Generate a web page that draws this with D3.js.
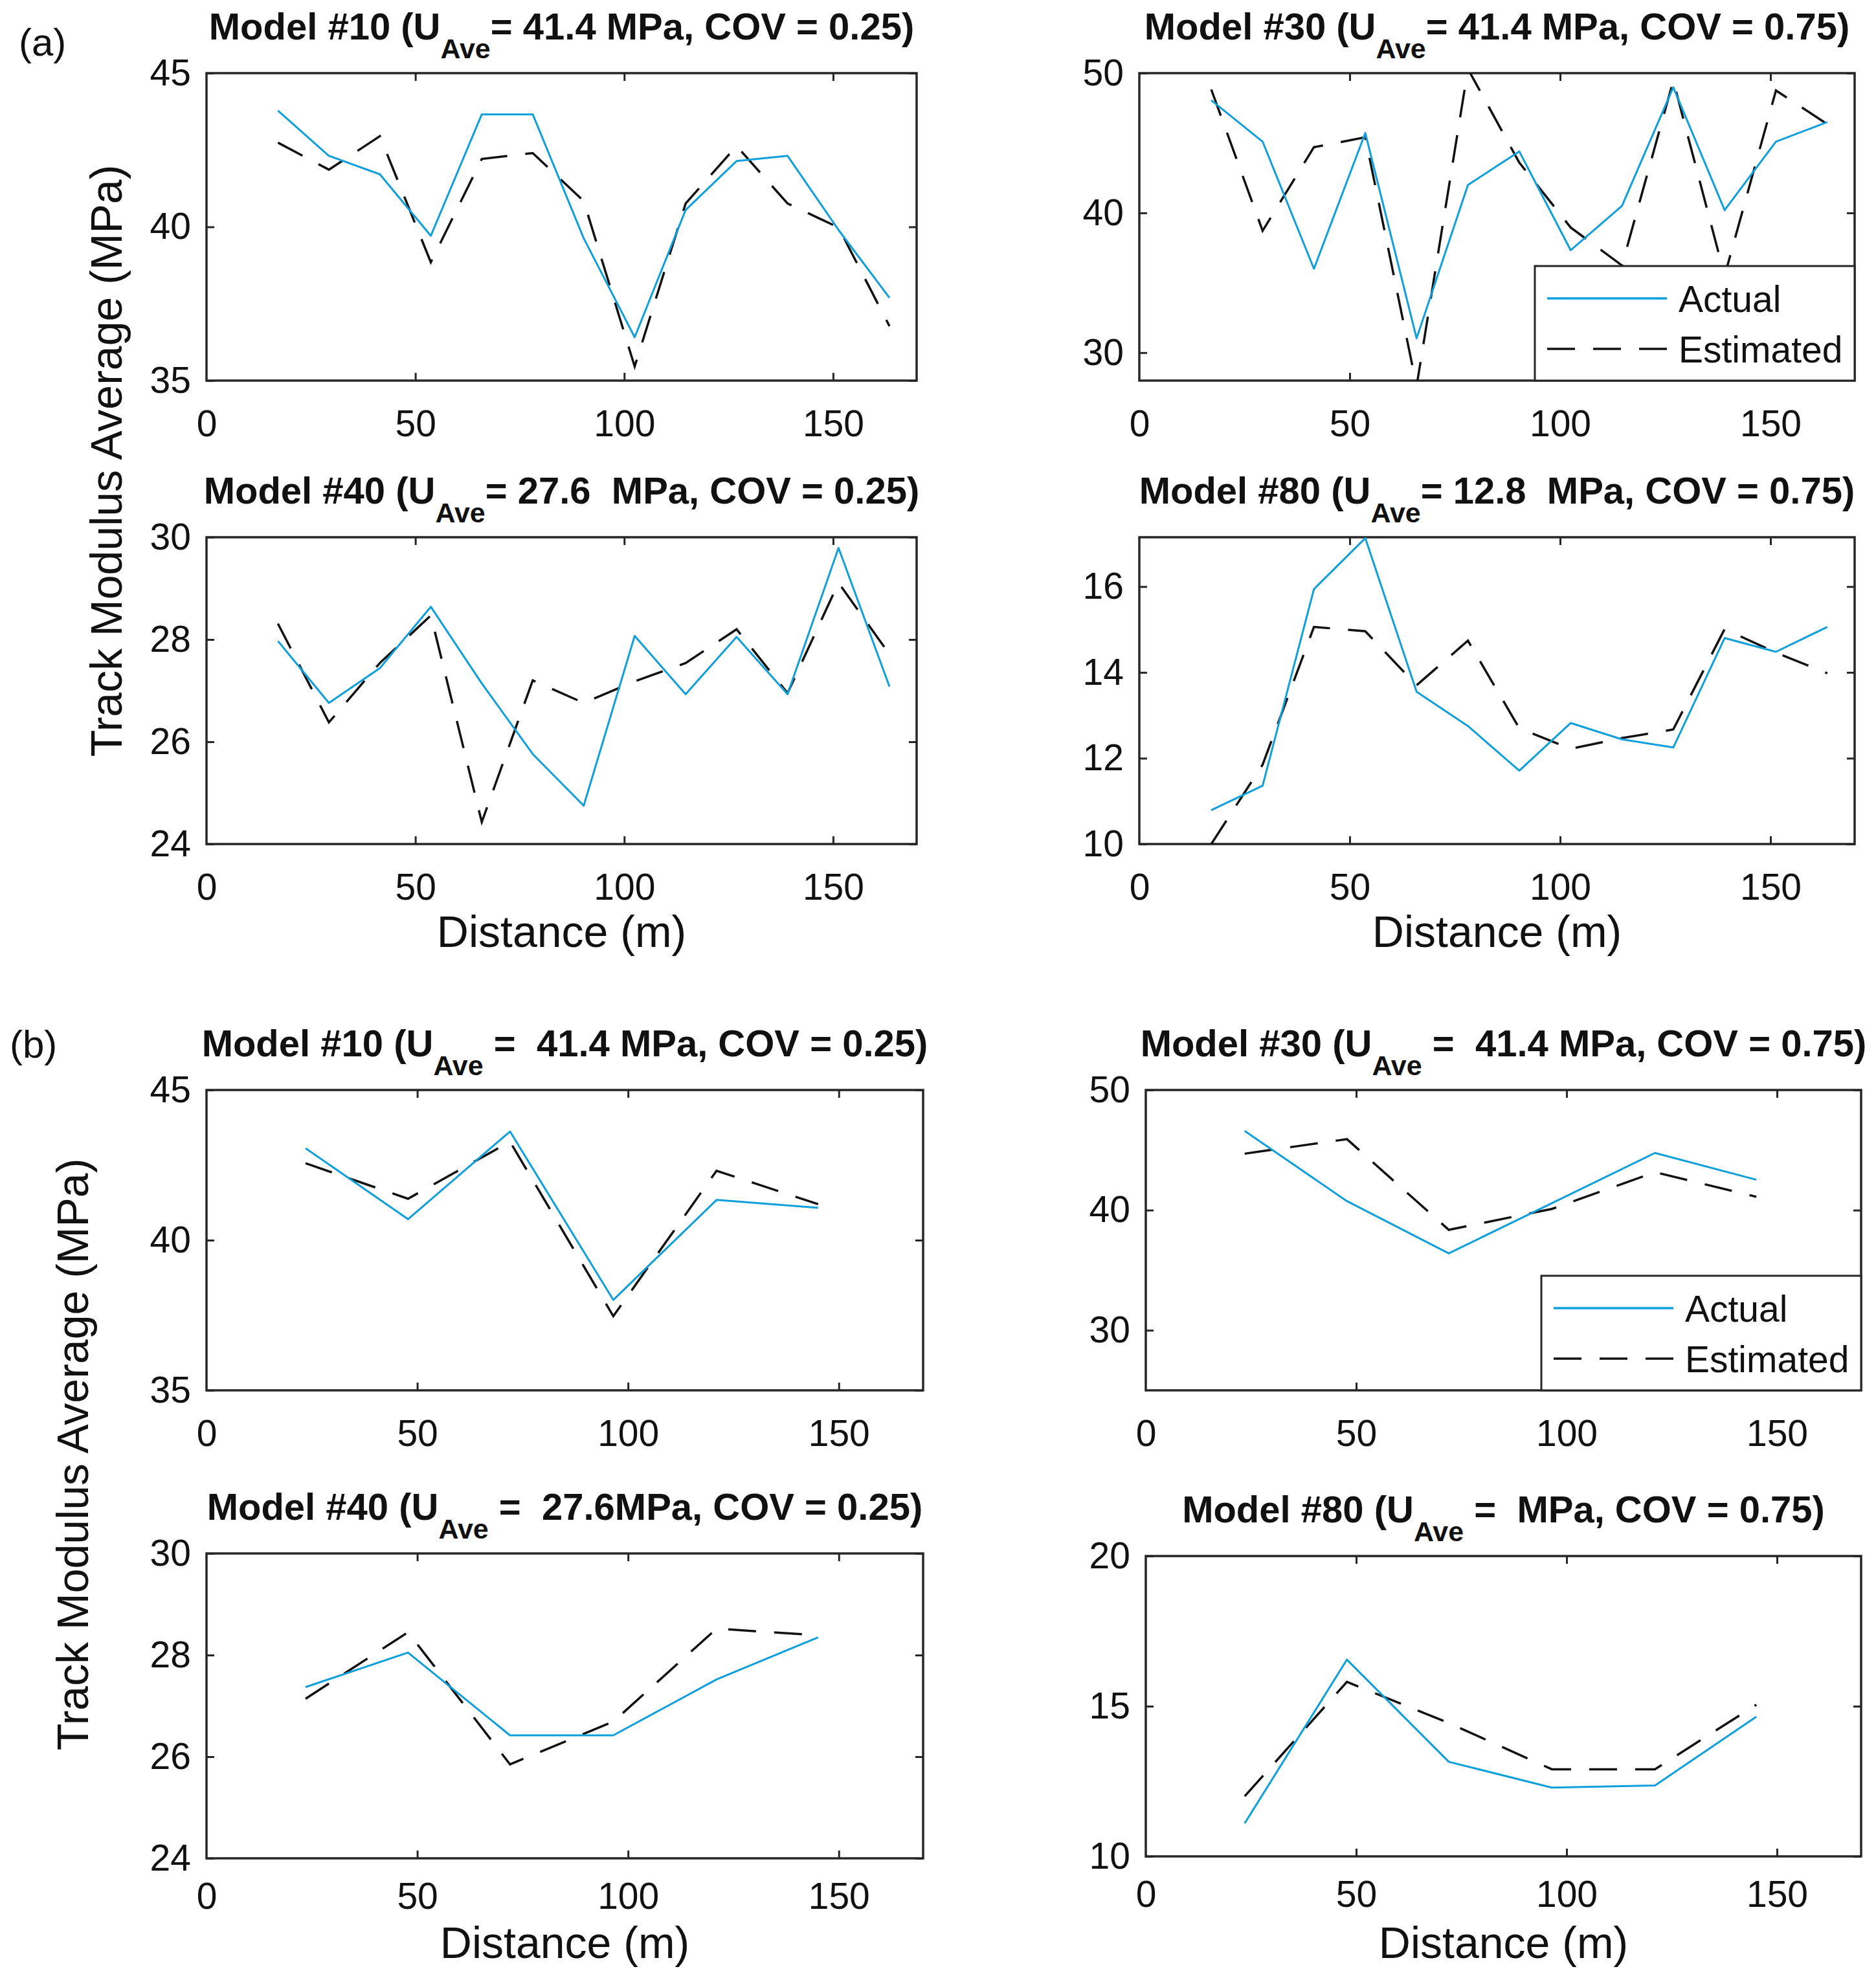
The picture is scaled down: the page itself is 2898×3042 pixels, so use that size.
<!DOCTYPE html>
<html>
<head>
<meta charset="utf-8">
<script src="https://cdn.jsdelivr.net/npm/d3@7"></script>
<style>
  body { margin: 0; background: #fff; }
  text { font-family: "Liberation Sans", Arial, Helvetica, sans-serif; fill: #111; }
</style>
</head>
<body>
<svg id="chart" width="2898" height="3042"></svg>
<script>
// distances (m) of the averaging sections
const distA = [17.1, 29.3, 41.5, 53.7, 65.9, 78.1, 90.3, 102.5, 114.7, 126.9, 139.1, 151.3, 163.5];
const distB = [23.5, 47.8, 72.0, 96.5, 121.0, 145.1];

// (a) track modulus averages (MPa)
const a10Actual    = [43.78, 42.31, 41.71, 39.71, 43.66, 43.66, 39.63, 36.41, 40.55, 42.14, 42.31, 39.9, 37.69];
const a10Estimated = [42.74, 41.86, 42.95, 38.85, 42.21, 42.4, 40.84, 35.46, 40.76, 42.63, 40.76, 39.98, 36.77];
const a30Actual    = [48.06, 45.1, 36.0, 45.72, 31.03, 42.0, 44.4, 37.33, 40.5, 48.99, 40.2, 45.1, 46.5];
const a30Estimated = [48.83, 38.72, 44.7, 45.41, 27.6, 50.3, 43.6, 38.96, 36.24, 49.46, 35.5, 48.76, 46.35];
const a40Actual    = [27.97, 26.76, 27.44, 28.64, 27.14, 25.76, 24.75, 28.07, 26.93, 28.05, 26.93, 29.79, 27.08];
const a40Estimated = [28.31, 26.38, 27.54, 28.47, 24.43, 27.2, 26.76, 27.18, 27.54, 28.2, 26.95, 29.11, 27.71];
const a80Actual    = [10.79, 11.36, 15.94, 17.13, 13.55, 12.75, 11.71, 12.82, 12.44, 12.25, 14.8, 14.48, 15.06];
const a80Estimated = [10.0, 11.85, 15.06, 14.96, 13.7, 14.74, 12.7, 12.22, 12.47, 12.67, 15.01, 14.46, 13.98];

// (b) track modulus averages (MPa)
const b10Actual    = [43.06, 40.7, 43.62, 38.01, 41.34, 41.08];
const b10Estimated = [42.56, 41.38, 43.28, 37.47, 42.31, 41.2];
const b30Actual    = [46.59, 40.75, 36.4, 40.58, 44.76, 42.53];
const b30Estimated = [44.7, 45.91, 38.36, 40.1, 43.16, 41.11];
const b40Actual    = [27.37, 28.05, 26.42, 26.42, 27.52, 28.35];
const b40Estimated = [27.14, 28.45, 25.85, 26.69, 28.52, 28.39];
const b80Actual    = [11.1, 16.55, 13.15, 12.29, 12.36, 14.65];
const b80Estimated = [12.0, 15.81, 14.44, 12.9, 12.9, 15.05];

// ticks
const xTicks = [0, 50, 100, 150];
const ticks10 = [35, 40, 45];
const ticks30 = [30, 40, 50];
const ticks40 = [24, 26, 28, 30];
const ticksA80 = [10, 12, 14, 16];
const ticksB80 = [10, 15, 20];

// titles: [before subscript, subscript, after subscript]
const titleA10 = ["Model #10 (U", "Ave", "= 41.4 MPa, COV = 0.25)"];
const titleA30 = ["Model #30 (U", "Ave", "= 41.4 MPa, COV = 0.75)"];
const titleA40 = ["Model #40 (U", "Ave", "= 27.6  MPa, COV = 0.25)"];
const titleA80 = ["Model #80 (U", "Ave", "= 12.8  MPa, COV = 0.75)"];
const titleB10 = ["Model #10 (U", "Ave", " =  41.4 MPa, COV = 0.25)"];
const titleB30 = ["Model #30 (U", "Ave", " =  41.4 MPa, COV = 0.75)"];
const titleB40 = ["Model #40 (U", "Ave", " =  27.6MPa, COV = 0.25)"];
const titleB80 = ["Model #80 (U", "Ave", " =  MPa, COV = 0.75)"];

const panels = [
  { dist: distA, actual: a10Actual, est: a10Estimated, yDomain: [35, 45], yTicks: ticks10, title: titleA10, box: [319, 1416, 113, 588] },
  { dist: distA, actual: a30Actual, est: a30Estimated, yDomain: [28, 50], yTicks: ticks30, title: titleA30, box: [1760, 2865, 113, 588], legend: true },
  { dist: distA, actual: a40Actual, est: a40Estimated, yDomain: [24, 30], yTicks: ticks40, title: titleA40, box: [319, 1416, 830, 1304], xLabel: 159 },
  { dist: distA, actual: a80Actual, est: a80Estimated, yDomain: [10, 17.15], yTicks: ticksA80, title: titleA80, box: [1760, 2865, 830, 1304], xLabel: 159 },
  { dist: distB, actual: b10Actual, est: b10Estimated, yDomain: [35, 45], yTicks: ticks10, title: titleB10, box: [319, 1426, 1684, 2148] },
  { dist: distB, actual: b30Actual, est: b30Estimated, yDomain: [25, 50], yTicks: ticks30, title: titleB30, box: [1770, 2875, 1684, 2148], legend: true },
  { dist: distB, actual: b40Actual, est: b40Estimated, yDomain: [24, 30], yTicks: ticks40, title: titleB40, box: [319, 1426, 2400, 2871], xLabel: 154, pad: 38 },
  { dist: distB, actual: b80Actual, est: b80Estimated, yDomain: [10, 20], yTicks: ticksB80, title: titleB80, box: [1770, 2875, 2404, 2868], xLabel: 157, pad: 38 }
];

const svg = d3.select("#chart");
const axisColor = "#262626";
const blue = "#0f9fdb";
const dash = "43,28";
const tickLen = 12;
const fmt = d3.format("d");

panels.forEach((p, i) => {
  const [x0, x1, y0, y1] = p.box;
  const x = d3.scaleLinear().domain([0, 170]).range([x0, x1]);
  const y = d3.scaleLinear().domain(p.yDomain).range([y1, y0]);
  const g = svg.append("g");

  svg.append("clipPath").attr("id", "clip" + i)
    .append("rect").attr("x", x0).attr("y", y0).attr("width", x1 - x0).attr("height", y1 - y0);

  // axes (ticks inside, on all four sides)
  const bottom = g.append("g").attr("transform", `translate(0,${y1})`)
    .call(d3.axisBottom(x).tickValues(xTicks).tickFormat(fmt).tickSizeInner(-tickLen).tickSizeOuter(0).tickPadding(p.pad || 46));
  const top = g.append("g").attr("transform", `translate(0,${y0})`)
    .call(d3.axisTop(x).tickValues(xTicks).tickSizeInner(-tickLen).tickSizeOuter(0).tickFormat(""));
  const left = g.append("g").attr("transform", `translate(${x0},0)`)
    .call(d3.axisLeft(y).tickValues(p.yTicks).tickFormat(fmt).tickSizeInner(-tickLen).tickSizeOuter(0).tickPadding(24));
  const right = g.append("g").attr("transform", `translate(${x1},0)`)
    .call(d3.axisRight(y).tickValues(p.yTicks).tickSizeInner(-tickLen).tickSizeOuter(0).tickFormat(""));

  [bottom, top, left, right].forEach(a => {
    a.select(".domain").remove();
    a.selectAll(".tick line").attr("stroke", axisColor).attr("stroke-width", 3);
    a.selectAll(".tick text").attr("font-family", null).style("font-size", "57px").attr("fill", "#222");
  });
  // hide ticks that sit on the frame edges
  bottom.selectAll(".tick").filter(d => d === 0).select("line").remove();
  top.selectAll(".tick").filter(d => d === 0).select("line").remove();

  g.append("rect")
    .attr("x", x0).attr("y", y0).attr("width", x1 - x0).attr("height", y1 - y0)
    .attr("fill", "none").attr("stroke", axisColor).attr("stroke-width", 3.5);

  const line = d3.line().x((d, j) => x(p.dist[j])).y(d => y(d));

  g.append("path").datum(p.est)
    .attr("clip-path", `url(#clip${i})`)
    .attr("fill", "none").attr("stroke", "#111").attr("stroke-width", 3.5)
    .attr("stroke-dasharray", dash).attr("d", line);

  g.append("path").datum(p.actual)
    .attr("clip-path", `url(#clip${i})`)
    .attr("fill", "none").attr("stroke", blue).attr("stroke-width", 3)
    .attr("stroke-linejoin", "round").attr("d", line);

  // title with subscript
  const t = g.append("text")
    .attr("x", (x0 + x1) / 2).attr("y", y0 - 52)
    .attr("text-anchor", "middle")
    .style("font-weight", "bold").style("font-size", "58px").style("white-space", "pre");
  t.append("tspan").text(p.title[0]);
  t.append("tspan").attr("dy", 29).style("font-size", "43px").text(p.title[1]);
  t.append("tspan").attr("dy", -29).text(p.title[2]);

  if (p.xLabel) {
    g.append("text")
      .attr("x", (x0 + x1) / 2).attr("y", y1 + p.xLabel)
      .attr("text-anchor", "middle").style("font-size", "68px")
      .text("Distance (m)");
  }

  if (p.legend) {
    const lx = x1 - 494, ly = y1 - 177;
    const leg = g.append("g");
    leg.append("rect").attr("x", lx).attr("y", ly).attr("width", 494).attr("height", 177)
      .attr("fill", "#fff").attr("stroke", axisColor).attr("stroke-width", 3);
    const items = [["Actual", blue, null], ["Estimated", "#111", dash]];
    items.forEach(([name, color, da], k) => {
      const yy = ly + 50 + k * 78;
      leg.append("line").attr("x1", lx + 19).attr("x2", lx + 204).attr("y1", yy).attr("y2", yy)
        .attr("stroke", color).attr("stroke-width", 3.5).attr("stroke-dasharray", da);
      leg.append("text").attr("x", lx + 222).attr("y", yy + 21).style("font-size", "57px").text(name);
    });
  }
});

// y axis labels and part labels
svg.append("text")
  .attr("transform", "translate(164,712) rotate(-90)")
  .attr("text-anchor", "middle").attr("dominant-baseline", "central")
  .style("font-size", "68px").text("Track Modulus Average (MPa)");
svg.append("text")
  .attr("transform", "translate(112,2247) rotate(-90)")
  .attr("text-anchor", "middle").attr("dominant-baseline", "central")
  .style("font-size", "68px").text("Track Modulus Average (MPa)");

svg.append("text").attr("x", 29).attr("y", 86).style("font-size", "60px").text("(a)");
svg.append("text").attr("x", 15).attr("y", 1634).style("font-size", "60px").text("(b)");
</script>
</body>
</html>
